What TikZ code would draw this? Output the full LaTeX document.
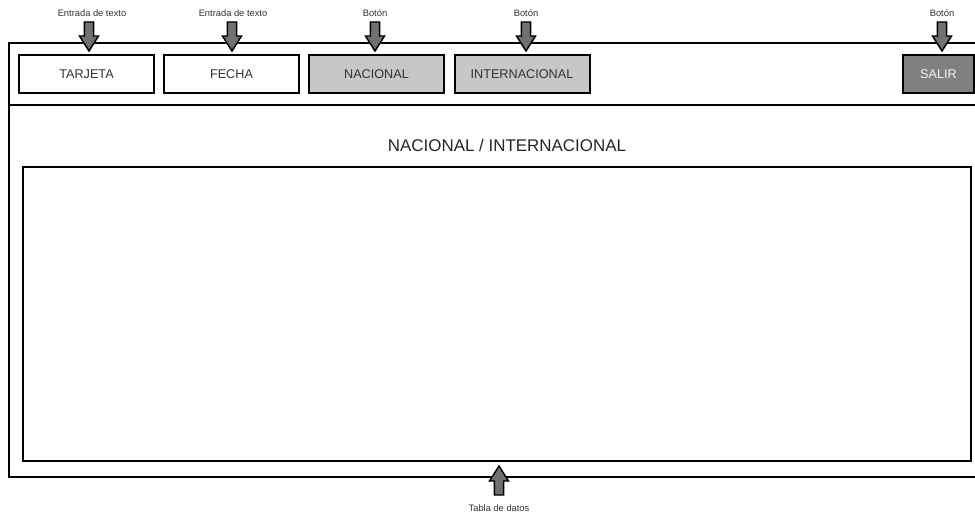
\documentclass[tikz,border=0pt]{standalone}
\usepackage{fontspec}
\setmainfont{Liberation Sans}
\begin{document}
\begin{tikzpicture}[x=0.75pt,y=-0.75pt,
  frame/.style={draw=black,line width=1.5pt},
  btn/.style={draw=black,line width=1.5pt,minimum width=101.25pt,minimum height=28.5pt,inner sep=0pt,font=\fontsize{9.5}{11}\selectfont,text=black!80},
  lbl/.style={font=\fontsize{7}{8}\selectfont,text=black!80,inner sep=0pt},
  arrstyle/.style={draw=black,line width=1.1pt,fill=black!56,line join=miter},
  downarr/.pic={\draw[arrstyle] (-4.7,0) -- (4.7,0) -- (4.7,14) -- (9.5,14) -- (0,29) -- (-9.5,14) -- (-4.7,14) -- cycle;}
]
\useasboundingbox (0,0) rectangle (975,513);
\fill[white] (0,0) rectangle (975,513);
\begin{scope}
\clip (0,0) rectangle (975,513);
% outer frame
\draw[frame] (9,43) rectangle (990,477);
\draw[frame] (9,105) -- (990,105);
% data table
\node[draw=black,line width=1.5pt,minimum width=711pt,minimum height=220.5pt,inner sep=0pt] (tabla) at (497,314) {};
\node[font=\fontsize{12.7}{14}\selectfont,text=black!85] (titulo) at (507,145) {NACIONAL / INTERNACIONAL};
% buttons
\node[btn] (tarjeta) at (86.5,74) {TARJETA};
\node[btn] (fecha) at (231.5,74) {FECHA};
\node[btn,fill=black!22] (nacional) at (376.5,74) {NACIONAL};
\node[btn,fill=black!22] (internacional) at (522,74) {INTERNACIONAL};
\node[btn,fill=black!50,text=black!5,minimum width=53.25pt] (salir) at (938.5,74) {SALIR};
% labels
\node[lbl] (l1) at (92,13) {Entrada de texto};
\node[lbl] (l2) at (233,13) {Entrada de texto};
\node[lbl] (l3) at (375,13) {Botón};
\node[lbl] (l4) at (526,13) {Botón};
\node[lbl] (l5) at (942,13) {Botón};
\node[lbl] (l6) at (499,508) {Tabla de datos};
% arrows
\pic at (89,22) {downarr};
\pic at (232,22) {downarr};
\pic at (375,22) {downarr};
\pic at (526,22) {downarr};
\pic at (942,22) {downarr};
\pic[yscale=-1] at (499,495) {downarr};
\end{scope}
\end{tikzpicture}
\end{document}
